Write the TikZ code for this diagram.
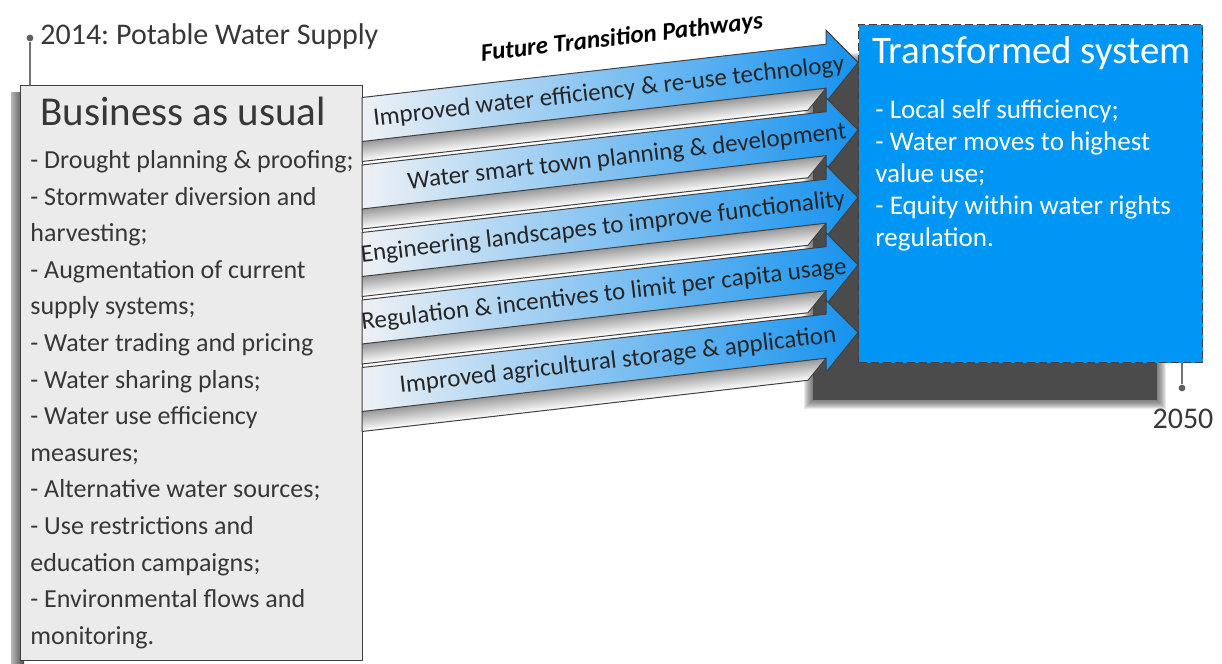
\documentclass[tikz,border=0pt]{standalone}
\usepackage{fontspec}
\setmainfont{Carlito}
\usetikzlibrary{positioning}
\definecolor{boxgray}{RGB}{235,235,235}
\definecolor{edgegray}{RGB}{64,64,64}
\definecolor{inkgray}{RGB}{55,55,55}
\definecolor{skyblue}{RGB}{0,150,245}
\definecolor{pathlight}{RGB}{238,241,245}
\definecolor{pathblue}{RGB}{22,146,238}
\definecolor{shadowgray}{RGB}{75,75,75}

% one pathway arrow: tail centre y, label x, name, label
\newcommand{\pathway}[4]{%
  \begin{scope}[transform canvas={cm={1,0.1149,0,1,(362,#1)}}]
    \shade[top color=black!40, middle color=black!4, bottom color=white]
      (0,22) -- (464,22) -- (446,42) -- (0,42) -- cycle;
    \draw[edgegray, line width=0.5pt] (0,22) -- (0,42) -- (446,42) -- (464,22);
    \shade[left color=pathlight, right color=pathblue, draw=edgegray, line width=0.5pt]
      (0,-22) -- (464,-22) -- (464,-36) -- (496,0) -- (464,36) -- (464,22) -- (0,22) -- cycle;
  \end{scope}
  \node[pathtext] (#3) at (#2,{#1+1-0.1149*(#2-362)}) {#4};
}

\tikzset{
  pathtext/.style={font=\fontsize{12.5}{14}\selectfont, text=black!85, rotate=6.6, inner sep=0},
  dot/.style={circle, fill=inkgray!80, inner sep=0, minimum size=3.4pt},
  lead/.style={inkgray!70, line width=0.7pt}
}

\begin{document}
\frenchspacing
\begin{tikzpicture}[x=0.5pt, y=-0.5pt]
\useasboundingbox (0,0) rectangle (1222,664);

% shadows
\foreach \b in {1,...,9}
  \fill[shadowgray, opacity=0.12] (813-\b,62-\b) rectangle (1157+\b,400+\b);
\fill[shadowgray] (813,62) rectangle (1157,400);
\shade[left color=shadowgray!40, right color=shadowgray] (11,92) rectangle (24,668);

% business as usual
\node[draw=edgegray, fill=boxgray, line width=0.6pt, anchor=north west,
  minimum width=171pt, minimum height=287.5pt, inner sep=0] (bau) at (20,85) {};
\node[anchor=base west, inner sep=0, font=\fontsize{20.5}{22}\selectfont, text=inkgray] (bautitle) at (40,125) {Business as usual};
\node[anchor=north west, align=left, inner sep=0, text=inkgray,
  font=\fontsize{13}{18.3}\selectfont] (baulist) at (30,150) {%
- Drought planning \& proofing;\\
- Stormwater diversion and\\
harvesting;\\
- Augmentation of current\\
supply systems;\\
- Water trading and pricing\\
- Water sharing plans;\\
- Water use efficiency\\
measures;\\
- Alternative water sources;\\
- Use restrictions and\\
education campaigns;\\
- Environmental flows and\\
monitoring.};

\node[dot] (d2014) at (30,38) {};
\draw[lead] (d2014) -- (d2014 |- bau.north);
\node[anchor=base west, inner sep=0, font=\fontsize{15}{16}\selectfont, text=inkgray] (l2014) at (40,45) {2014: Potable Water Supply};

% pathways
\pathway{119.5}{609}{pw1}{Improved water efficiency \& re-use technology}
\pathway{187}{627}{pw2}{Water smart town planning \& development}
\pathway{254.5}{603}{pw3}{Engineering landscapes to improve functionality}
\pathway{322}{604}{pw4}{Regulation \& incentives to limit per capita usage}
\pathway{389.5}{618}{pw5}{Improved agricultural storage \& application}

\node[font=\bfseries\itshape\fontsize{12.5}{15}\selectfont, rotate=6.6, inner sep=0] (ftp) at (622,38) {Future Transition Pathways};

% transformed system
\node[draw=edgegray, dash pattern=on 4pt off 2pt, fill=skyblue, line width=0.7pt, anchor=north west,
  minimum width=172pt, minimum height=169pt, inner sep=0] (trans) at (858,24) {};
\node[anchor=base west, inner sep=0, font=\fontsize{19.5}{22}\selectfont, text=white] (transtitle) at (872,63) {Transformed system};
\node[anchor=north west, align=left, inner sep=0, text=white,
  font=\fontsize{13.5}{16}\selectfont] (translist) at (875,99) {%
- Local self sufficiency;\\
- Water moves to highest\\
value use;\\
- Equity within water rights\\
regulation.};

\node[dot] (d2050) at (1182,388) {};
\draw[lead] (d2050) -- (d2050 |- trans.south);
\node[anchor=base, inner sep=0, font=\fontsize{15}{16}\selectfont, text=inkgray] (l2050) at (1183,428) {2050};
\end{tikzpicture}
\end{document}
